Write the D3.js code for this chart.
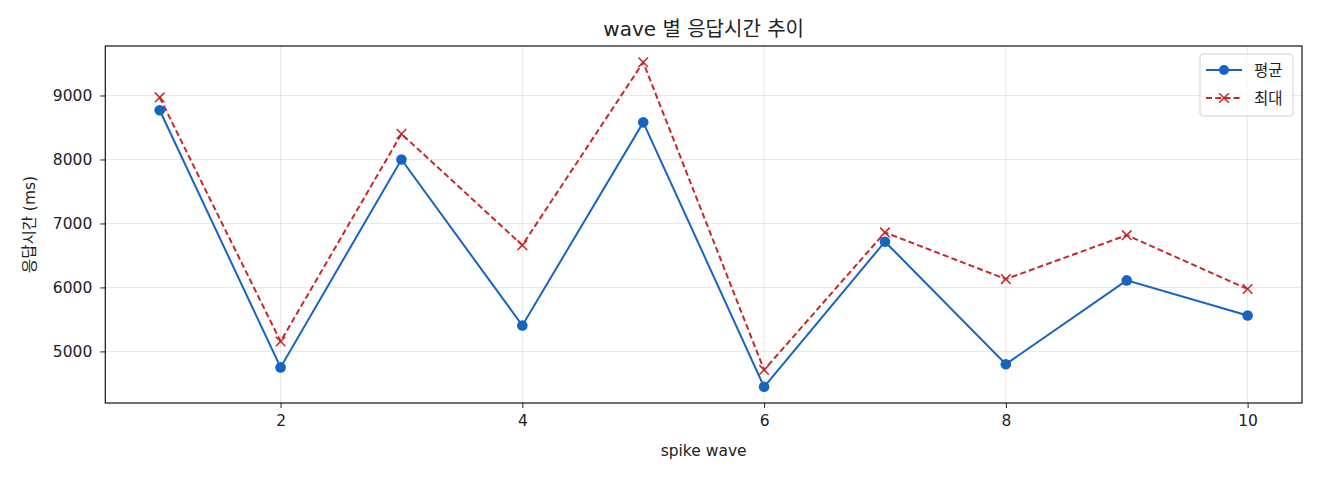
<!DOCTYPE html>
<html><head><meta charset="utf-8">
<script src="https://cdn.jsdelivr.net/npm/d3@7"></script>
<style>
body{margin:0;background:#fff;}
text{font-family:"DejaVu Sans","Noto Sans CJK KR",sans-serif;fill:#222;}
</style></head>
<body><svg id="c" width="1320" height="480"></svg>
<script>
const waves = [1,2,3,4,5,6,7,8,9,10];
const avgMs = [8770,4750,8000,5405,8580,4447,6715,4800,6110,5560];
const maxMs = [8970,5155,8400,6660,9520,4710,6860,6130,6817,5975];
const xTicks = [2,4,6,8,10];
const yTicks = [5000,6000,7000,8000,9000];
const seriesNames = ["평균","최대"];
const titleText = "wave 별 응답시간 추이";
const xLabel = "spike wave";
const yLabel = "응답시간 (ms)";

const svg = d3.select("#c");
const L=105.3, R=1302, T=46, B=403;
const x = d3.scaleLinear().domain([0.55,10.45]).range([L,R]);
const yMin = d3.min(avgMs), yMax = d3.max(maxMs), pad=(yMax-yMin)*0.05;
const y = d3.scaleLinear().domain([yMin-pad,yMax+pad]).range([B,T]);

const g = svg.append("g");
g.selectAll(".gx").data(xTicks).enter().append("line")
 .attr("x1",d=>x(d)).attr("x2",d=>x(d)).attr("y1",T).attr("y2",B)
 .attr("stroke","#b0b0b0").attr("stroke-opacity",0.3).attr("stroke-width",1);
g.selectAll(".gy").data(yTicks).enter().append("line")
 .attr("y1",d=>y(d)).attr("y2",d=>y(d)).attr("x1",L).attr("x2",R)
 .attr("stroke","#b0b0b0").attr("stroke-opacity",0.3).attr("stroke-width",1);

const xa = svg.append("g").attr("transform",`translate(0,${B})`)
 .call(d3.axisBottom(x).tickValues(xTicks).tickSize(5).tickPadding(7).tickFormat(d3.format("d")));
const ya = svg.append("g").attr("transform",`translate(${L},0)`)
 .call(d3.axisLeft(y).tickValues(yTicks).tickSize(5).tickPadding(8).tickFormat(d3.format("d")));
[xa,ya].forEach(a=>{a.select(".domain").remove();a.selectAll("line").attr("stroke","#222");
 a.selectAll("text").attr("font-size",15.5).attr("font-family",'"DejaVu Sans","Noto Sans CJK KR",sans-serif').attr("fill","#222");});
svg.append("rect").attr("x",L).attr("y",T).attr("width",R-L).attr("height",B-T)
 .attr("fill","none").attr("stroke","#111").attr("stroke-width",1.2);

const line = d3.line().x((d,i)=>x(waves[i])).y(d=>y(d));
svg.append("path").datum(avgMs).attr("d",line).attr("fill","none")
 .attr("stroke","#1565C0").attr("stroke-width",2);
svg.append("path").datum(maxMs).attr("d",line).attr("fill","none")
 .attr("stroke","#C62828").attr("stroke-width",2).attr("stroke-dasharray","6,3.2");
svg.selectAll(".pa").data(avgMs).enter().append("circle")
 .attr("cx",(d,i)=>x(waves[i])).attr("cy",d=>y(d)).attr("r",5.3).attr("fill","#1565C0");
const xm = 4.8;
svg.selectAll(".pm").data(maxMs).enter().append("path")
 .attr("d",(d,i)=>{const cx=x(waves[i]),cy=y(d);return `M${cx-xm},${cy-xm}L${cx+xm},${cy+xm}M${cx-xm},${cy+xm}L${cx+xm},${cy-xm}`;})
 .attr("stroke","#C62828").attr("stroke-width",1.5).attr("fill","none");

svg.append("text").attr("x",(L+R)/2).attr("y",36).attr("text-anchor","middle")
 .attr("font-size",20).text(titleText);
svg.append("text").attr("x",(L+R)/2).attr("y",456).attr("text-anchor","middle")
 .attr("font-size",15.5).text(xLabel);
svg.append("text").attr("transform",`translate(35,${(T+B)/2}) rotate(-90)`).attr("text-anchor","middle")
 .attr("font-size",15.5).text(yLabel);

const lg = svg.append("g");
lg.append("rect").attr("x",1200).attr("y",54).attr("width",93).attr("height",62).attr("rx",3)
 .attr("fill","#fff").attr("fill-opacity",0.8).attr("stroke","#d0d0d0").attr("stroke-width",1);
const ly=[70,98];
lg.append("line").attr("x1",1206).attr("x2",1242).attr("y1",ly[0]).attr("y2",ly[0]).attr("stroke","#1565C0").attr("stroke-width",2);
lg.append("circle").attr("cx",1224).attr("cy",ly[0]).attr("r",5).attr("fill","#1565C0");
lg.append("line").attr("x1",1206).attr("x2",1242).attr("y1",ly[1]).attr("y2",ly[1]).attr("stroke","#C62828").attr("stroke-width",2).attr("stroke-dasharray","6,3.2");
lg.append("path").attr("d",`M${1224-xm},${ly[1]-xm}L${1224+xm},${ly[1]+xm}M${1224-xm},${ly[1]+xm}L${1224+xm},${ly[1]-xm}`)
 .attr("stroke","#C62828").attr("stroke-width",1.5);
seriesNames.forEach((n,i)=>lg.append("text").attr("x",1254).attr("y",ly[i]+5.5).attr("font-size",15.5).text(n));
</script></body></html>
